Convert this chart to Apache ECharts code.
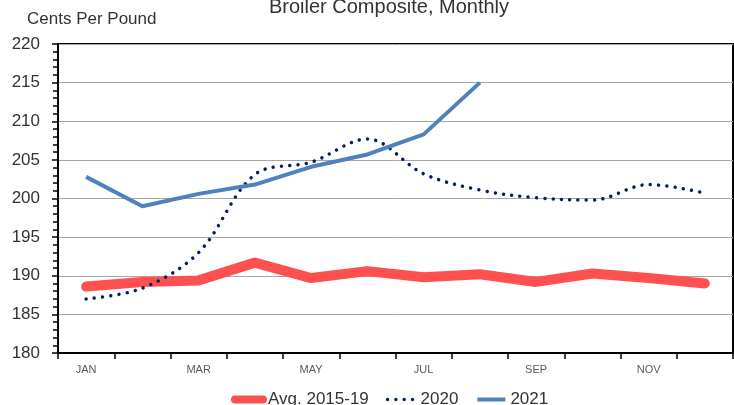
<!DOCTYPE html>
<html>
<head>
<meta charset="utf-8">
<script src="https://cdn.jsdelivr.net/npm/echarts@6/dist/echarts.min.js"></script>
<style>
  html, body { margin: 0; padding: 0; background: #fff; }
  #chart { width: 734px; height: 405px; }
</style>
</head>
<body>
<div id="chart"></div>
<script>
var months = ['JAN', 'FEB', 'MAR', 'APR', 'MAY', 'JUN', 'JUL', 'AUG', 'SEP', 'OCT', 'NOV', 'DEC'];
var avg1519 = [188.6, 189.2, 189.4, 191.7, 189.7, 190.6, 189.8, 190.2, 189.2, 190.3, 189.7, 189.0];
var y2020 = [187.0, 188.4, 193.0, 203.1, 204.7, 207.7, 203.2, 201.1, 200.1, 199.8, 201.8, 200.7];
var y2021 = [202.8, 199.0, 200.6, 201.8, 204.1, 205.7, 208.3, 215.0];

var FONT = '"Liberation Sans", Arial, sans-serif';
var RED = '#ff5050';
var NAVY = '#002060';
var BLUE = '#4f81bd';
var TEXT = '#333333';

var chart = echarts.init(document.getElementById('chart'), null, { renderer: 'canvas' });

var option = {
    animation: false,
    title: [{
        text: 'Broiler Composite, Monthly',
        left: 384,
        textAlign: 'center',
        top: -8,
        textStyle: { fontFamily: FONT, fontSize: 20, fontWeight: 'normal', color: TEXT }
    }, {
        text: 'Cents Per Pound',
        left: 22,
        top: 6,
        textStyle: { fontFamily: FONT, fontSize: 17, fontWeight: 'normal', color: TEXT }
    }],
    legend: {
        left: 226,
        top: 386,
        itemWidth: 28,
        itemHeight: 10,
        itemGap: 17,
        textStyle: { fontFamily: FONT, fontSize: 17, color: TEXT },
        data: [
            { name: 'Avg. 2015-19', itemStyle: { opacity: 0 }, lineStyle: { width: 8, color: RED, cap: 'round' } },
            { name: '2020', itemStyle: { opacity: 0 }, lineStyle: { width: 3.5, color: NAVY, type: [0.01, 8.3], cap: 'round' } },
            { name: '2021', itemStyle: { opacity: 0 }, lineStyle: { width: 4, color: BLUE } }
        ]
    },
    grid: {
        left: 58,
        right: 1,
        top: 44,
        bottom: 52,
        show: true,
        borderColor: '#000',
        borderWidth: 2
    },
    xAxis: {
        type: 'category',
        data: months,
        boundaryGap: true,
        axisLine: { lineStyle: { color: '#000', width: 2 } },
        axisTick: { show: true, inside: false, interval: 0, length: 6, lineStyle: { color: '#000', width: 1.5 } },
        axisLabel: { interval: 1, margin: 11, fontFamily: FONT, fontSize: 11, color: '#595959' },
        splitLine: { show: false }
    },
    yAxis: {
        type: 'value',
        min: 180,
        max: 220,
        interval: 5,
        axisLine: { show: true, lineStyle: { color: '#000', width: 2 } },
        axisTick: { show: true, inside: false, length: 6, lineStyle: { color: '#000', width: 1.5 } },
        minorTick: { show: true, splitNumber: 5, length: 5, lineStyle: { color: '#000', width: 1.5 } },
        axisLabel: { margin: 18, fontFamily: FONT, fontSize: 17, color: TEXT },
        splitLine: { lineStyle: { color: '#a6a6a6', width: 1 } }
    },
    series: [{
        name: 'Avg. 2015-19',
        type: 'line',
        data: avg1519,
        symbol: 'none',
        lineStyle: { color: RED, width: 10, cap: 'round', join: 'round' },
        itemStyle: { color: RED }
    }, {
        name: '2020',
        type: 'line',
        data: y2020,
        symbol: 'none',
        smooth: 0.35,
        lineStyle: { color: NAVY, width: 3.5, type: [0.01, 8.3], cap: 'round' },
        itemStyle: { color: NAVY }
    }, {
        name: '2021',
        type: 'line',
        data: y2021,
        symbol: 'none',
        lineStyle: { color: BLUE, width: 4, join: 'round' },
        itemStyle: { color: BLUE }
    }]
};

chart.setOption(option);
</script>
</body>
</html>
